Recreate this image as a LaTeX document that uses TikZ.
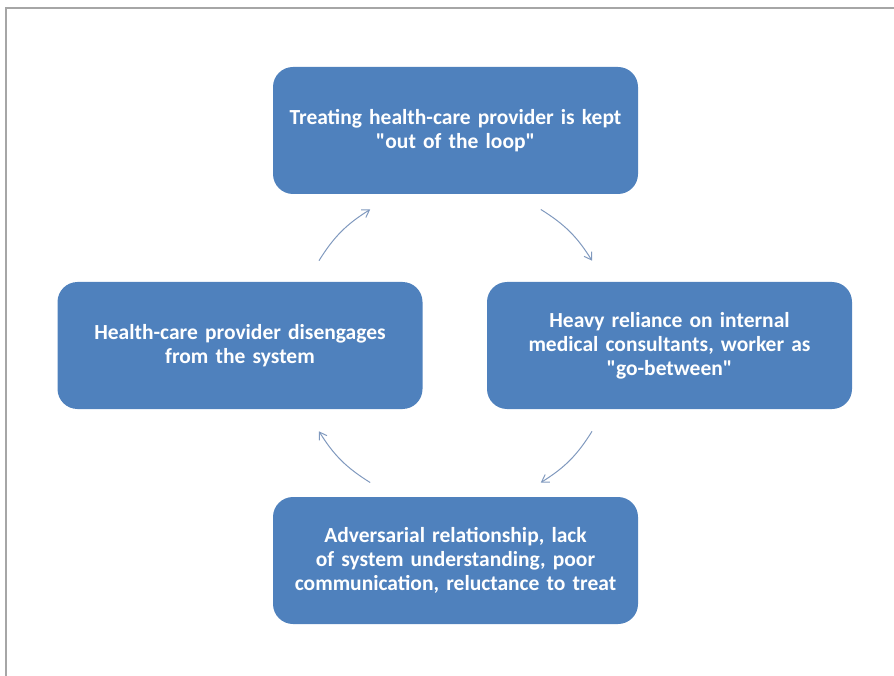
\documentclass[tikz,border=0pt]{standalone}
\usepackage{fontspec}
\setmainfont{Carlito}[Ligatures=TeXOff]
\usetikzlibrary{arrows.meta}
\definecolor{boxblue}{HTML}{4F81BD}
\definecolor{arrcol}{HTML}{8099BE}
\definecolor{framegray}{HTML}{A6A6A6}
\newcommand{\sq}{\char34\relax}
\tikzset{
  cyclebox/.style={draw=none, fill=boxblue, rounded corners=20pt,
    minimum width=365pt, minimum height=127pt, text width=350pt, align=center,
    text=white, font=\bfseries\fontsize{21.5}{24}\selectfont, inner sep=0pt},
  cyclearrow/.style={draw=arrcol, line width=1pt, -{Straight Barb[length=7pt,width=9pt]}},
  frameline/.style={draw=framegray, line width=2pt}
}
\begin{document}
\begin{tikzpicture}[x=1pt,y=1pt]
\useasboundingbox (0,0) rectangle (894,-676);
\coordinate (f1) at (894,-8);
\coordinate (f2) at (5.5,-8);
\coordinate (f3) at (5.5,-676);
\draw[frameline] (f1) -- (f2) -- (f3);
\node[cyclebox] (top) at (455.5,-130.5) {Treating health-care provider is kept\\\sq out of the loop\sq};
\node[cyclebox] (right) at (669.5,-345.5) {Heavy reliance on internal\\medical consultants, worker as\\\sq go-between\sq};
\node[cyclebox] (left) at (240,-345.5) {Health-care provider disengages\\from the system};
\node[cyclebox] (bottom) at (455.5,-560.5) {Adversarial relationship, lack\\of system understanding, poor\\communication, reluctance to treat};
\coordinate (ctr) at (455.5,-346);
\coordinate (a1s) at ([shift={(148:161pt)}]ctr);
\coordinate (a1e) at ([shift={(122:161pt)}]ctr);
\coordinate (a2s) at ([shift={(58:161pt)}]ctr);
\coordinate (a2e) at ([shift={(32:161pt)}]ctr);
\coordinate (a3s) at ([shift={(-32:161pt)}]ctr);
\coordinate (a3e) at ([shift={(-58:161pt)}]ctr);
\coordinate (a4s) at ([shift={(-122:161pt)}]ctr);
\coordinate (a4e) at ([shift={(-148:161pt)}]ctr);
\draw[cyclearrow] (a1s) to[bend left=13] (a1e);
\draw[cyclearrow] (a2s) to[bend left=13] (a2e);
\draw[cyclearrow] (a3s) to[bend left=13] (a3e);
\draw[cyclearrow] (a4s) to[bend left=13] (a4e);
\end{tikzpicture}
\end{document}
